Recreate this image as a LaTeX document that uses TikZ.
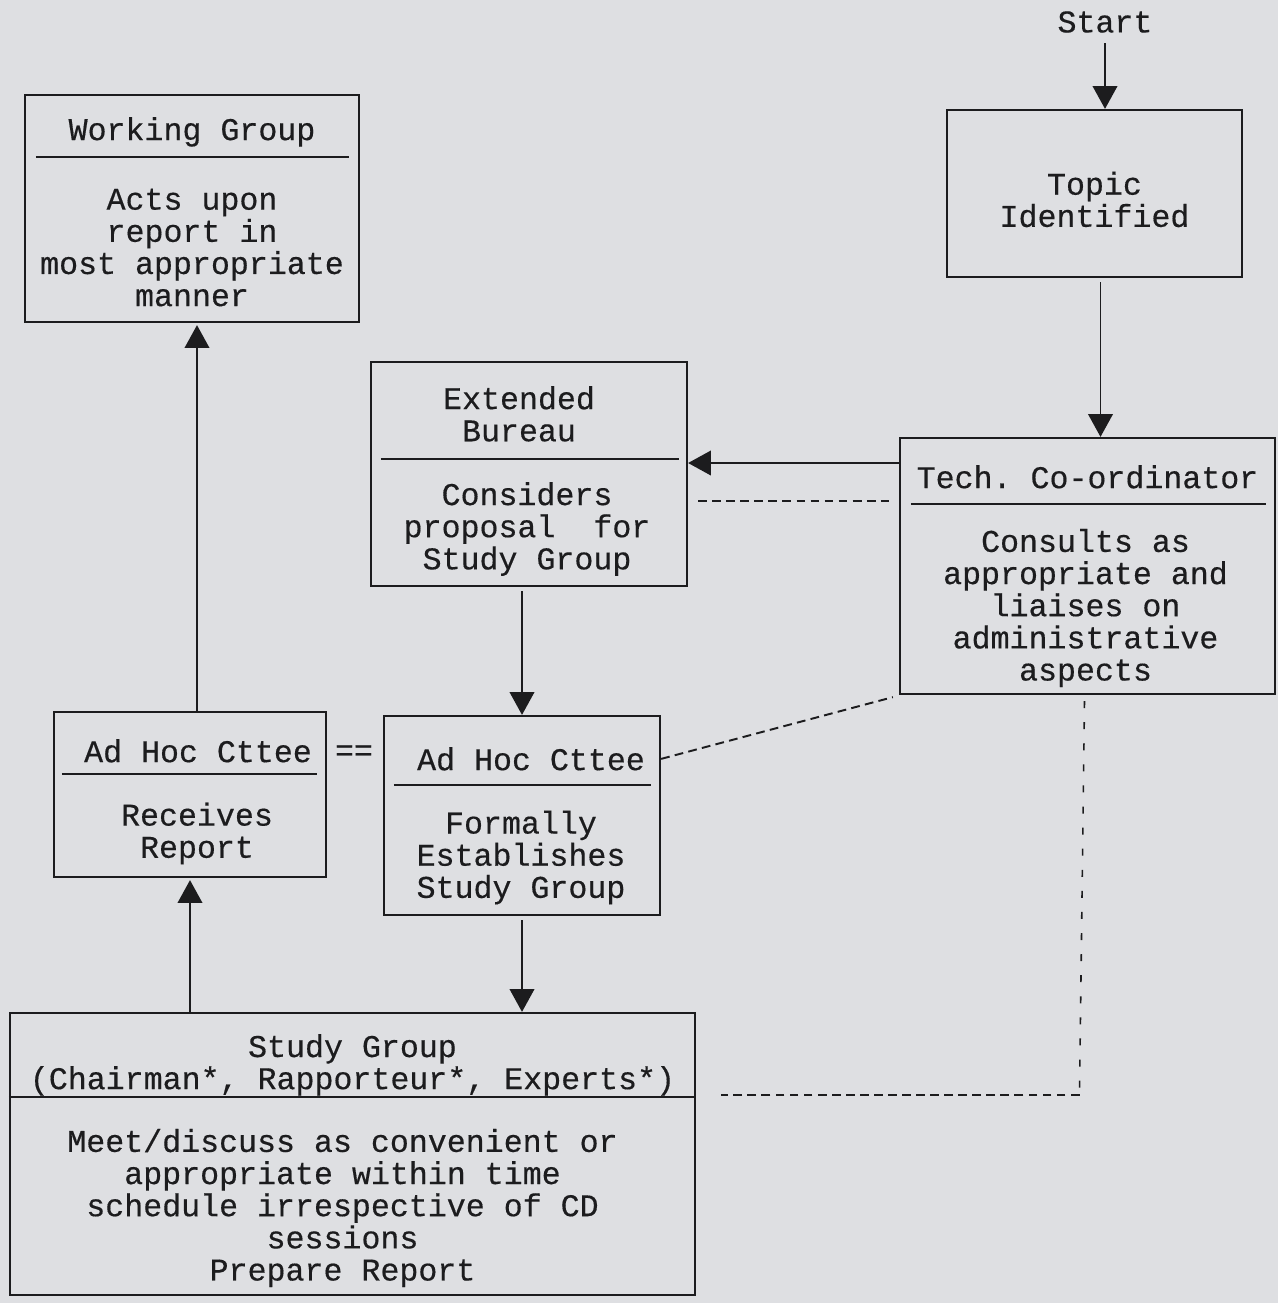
\documentclass[tikz,border=0pt]{standalone}
\usepackage{fontspec}
\newfontfamily\courierface[FakeBold=0.4]{Liberation Mono}
\usepackage{tikz}
\usetikzlibrary{calc}
\usetikzlibrary{arrows.meta}
\definecolor{paper}{RGB}{222,223,226}
\definecolor{ink}{RGB}{28,28,30}
\newcommand{\boxfont}{\courierface\fontsize{18}{18.3}\selectfont}
\tikzstyle{box} = [draw=ink, line width=1.3pt, rectangle, inner sep=0pt]
\tikzstyle{txt} = [align=center, font=\boxfont, text=ink, inner sep=0pt]
\tikzstyle{rule} = [draw=ink, line width=1.3pt]
\tikzstyle{flow} = [draw=ink, line width=1.1pt, -{Triangle[length=13pt,width=14pt]}]
\tikzstyle{dashlink} = [draw=ink, line width=1.1pt, dash pattern=on 5pt off 3pt]
\tikzstyle{dashsparse} = [draw=ink, line width=0.9pt, dash pattern=on 4pt off 8pt]
\frenchspacing

\begin{document}
\begin{tikzpicture}[x=0.02cm, y=-0.02cm]
    \fill[paper] (0,0) rectangle (1278,1303);
    \useasboundingbox (0,0) rectangle (1278,1303);

    \node[txt] (start) at (1105,22) {Start};

    \node[box, minimum width=5.90cm, minimum height=3.34cm] (topic_box) at (1094.5,193.5) {};
    \node[txt] (topic_body) at ($(topic_box.center)+(0,6)$) {Topic\\Identified};

    \node[box, minimum width=7.50cm, minimum height=5.12cm] (tech_box) at (1087.5,566) {};
    \node[txt] (tech_title) at ($(tech_box.north)+(0,40)$) {Tech. Co-ordinator};
    \draw[rule] ($(tech_box.north west)+(12,67)$) -- ($(tech_box.north east)+(-10,67)$);
    \node[txt] (tech_body) at ($(tech_box.center)+(-2,42)$) {Consults as\\appropriate and\\liaises on\\administrative\\aspects};

    \node[box, minimum width=6.32cm, minimum height=4.48cm] (bureau_box) at (529,474) {};
    \node[txt] (bureau_title) at ($(bureau_box.north)+(-10,53)$) {Extended\\Bureau};
    \draw[rule] ($(bureau_box.north west)+(11,98)$) -- ($(bureau_box.north east)+(-9,98)$);
    \node[txt] (bureau_body) at ($(bureau_box.center)+(-2,55)$) {Considers\\proposal\ \ for\\Study Group};

    \node[box, minimum width=6.68cm, minimum height=4.54cm] (wg_box) at (192,208.5) {};
    \node[txt] (wg_title) at ($(wg_box.north)+(0,38)$) {Working Group};
    \draw[rule] ($(wg_box.north west)+(12,63)$) -- ($(wg_box.north east)+(-11,63)$);
    \node[txt] (wg_body) at ($(wg_box.center)+(0,39)$) {Acts upon\\report in\\most appropriate\\manner};

    \node[box, minimum width=5.44cm, minimum height=3.30cm] (adhoc1_box) at (190,794.5) {};
    \node[txt] (adhoc1_title) at ($(adhoc1_box.north)+(8,40)$) {Ad Hoc Cttee};
    \draw[rule] ($(adhoc1_box.north west)+(9,63)$) -- ($(adhoc1_box.north east)+(-10,63)$);
    \node[txt] (adhoc1_body) at ($(adhoc1_box.center)+(7,39)$) {Receives\\Report};

    \node[box, minimum width=5.52cm, minimum height=3.98cm] (adhoc2_box) at (522,815.5) {};
    \node[txt] (adhoc2_title) at ($(adhoc2_box.north)+(9,44)$) {Ad Hoc Cttee};
    \draw[rule] ($(adhoc2_box.north west)+(11,70)$) -- ($(adhoc2_box.north east)+(-10,70)$);
    \node[txt] (adhoc2_body) at ($(adhoc2_box.center)+(-1,42)$) {Formally\\Establishes\\Study Group};

    \node[txt] (same) at (354,753) {==};

    \node[box, minimum width=13.70cm, minimum height=5.64cm] (study_box) at (352.5,1154) {};
    \node[txt] (study_title) at ($(study_box.north)+(0,53)$) {Study Group\\(Chairman*, Rapporteur*, Experts*)};
    \draw[rule] ($(study_box.north west)+(0,85)$) -- ($(study_box.north east)+(0,85)$);
    \node[txt] (study_body) at ($(study_box.center)+(-10,54)$) {Meet/discuss as convenient or\\appropriate within time\\schedule irrespective of CD\\sessions\\Prepare Report};

    \draw[flow] ($(start.south)+(0,10)$) -- (start.south |- topic_box.north);
    \draw[flow] ($(topic_box.south)+(6,4)$) -- ($(topic_box.south |- tech_box.north)+(6,0)$);
    \draw[flow] (tech_box.west |- 0,463) -- (bureau_box.east |- 0,463);
    \draw[dashlink] ($(bureau_box.east |- 0,501)+(10,0)$) -- ($(tech_box.west |- 0,501)+(-10,0)$);
    \draw[flow] ($(adhoc2_box.north |- bureau_box.south)+(0,4)$) -- (adhoc2_box.north);
    \draw[dashlink] (adhoc2_box.east |- adhoc2_title) -- ($(tech_box.south west)+(-6,2)$);
    \draw[flow] ($(adhoc1_box.north)+(7,0)$) -- ($(adhoc1_box.north |- wg_box.south)+(7,2)$);
    \draw[flow] (study_box.north -| adhoc1_box.south) -- ($(adhoc1_box.south)+(0,2)$);
    \draw[flow] ($(adhoc2_box.south)+(0,4)$) -- (adhoc2_box.south |- study_box.north);
    \draw[dashsparse] ($(tech_box.south)+(-3,6)$) -- ($(tech_box.south |- 0,1095)+(-8,0)$);
    \draw[dashlink] ($(tech_box.south |- 0,1095)+(-8,0)$) -- ($(study_box.east |- 0,1095)+(25,0)$);
\end{tikzpicture}
\end{document}
